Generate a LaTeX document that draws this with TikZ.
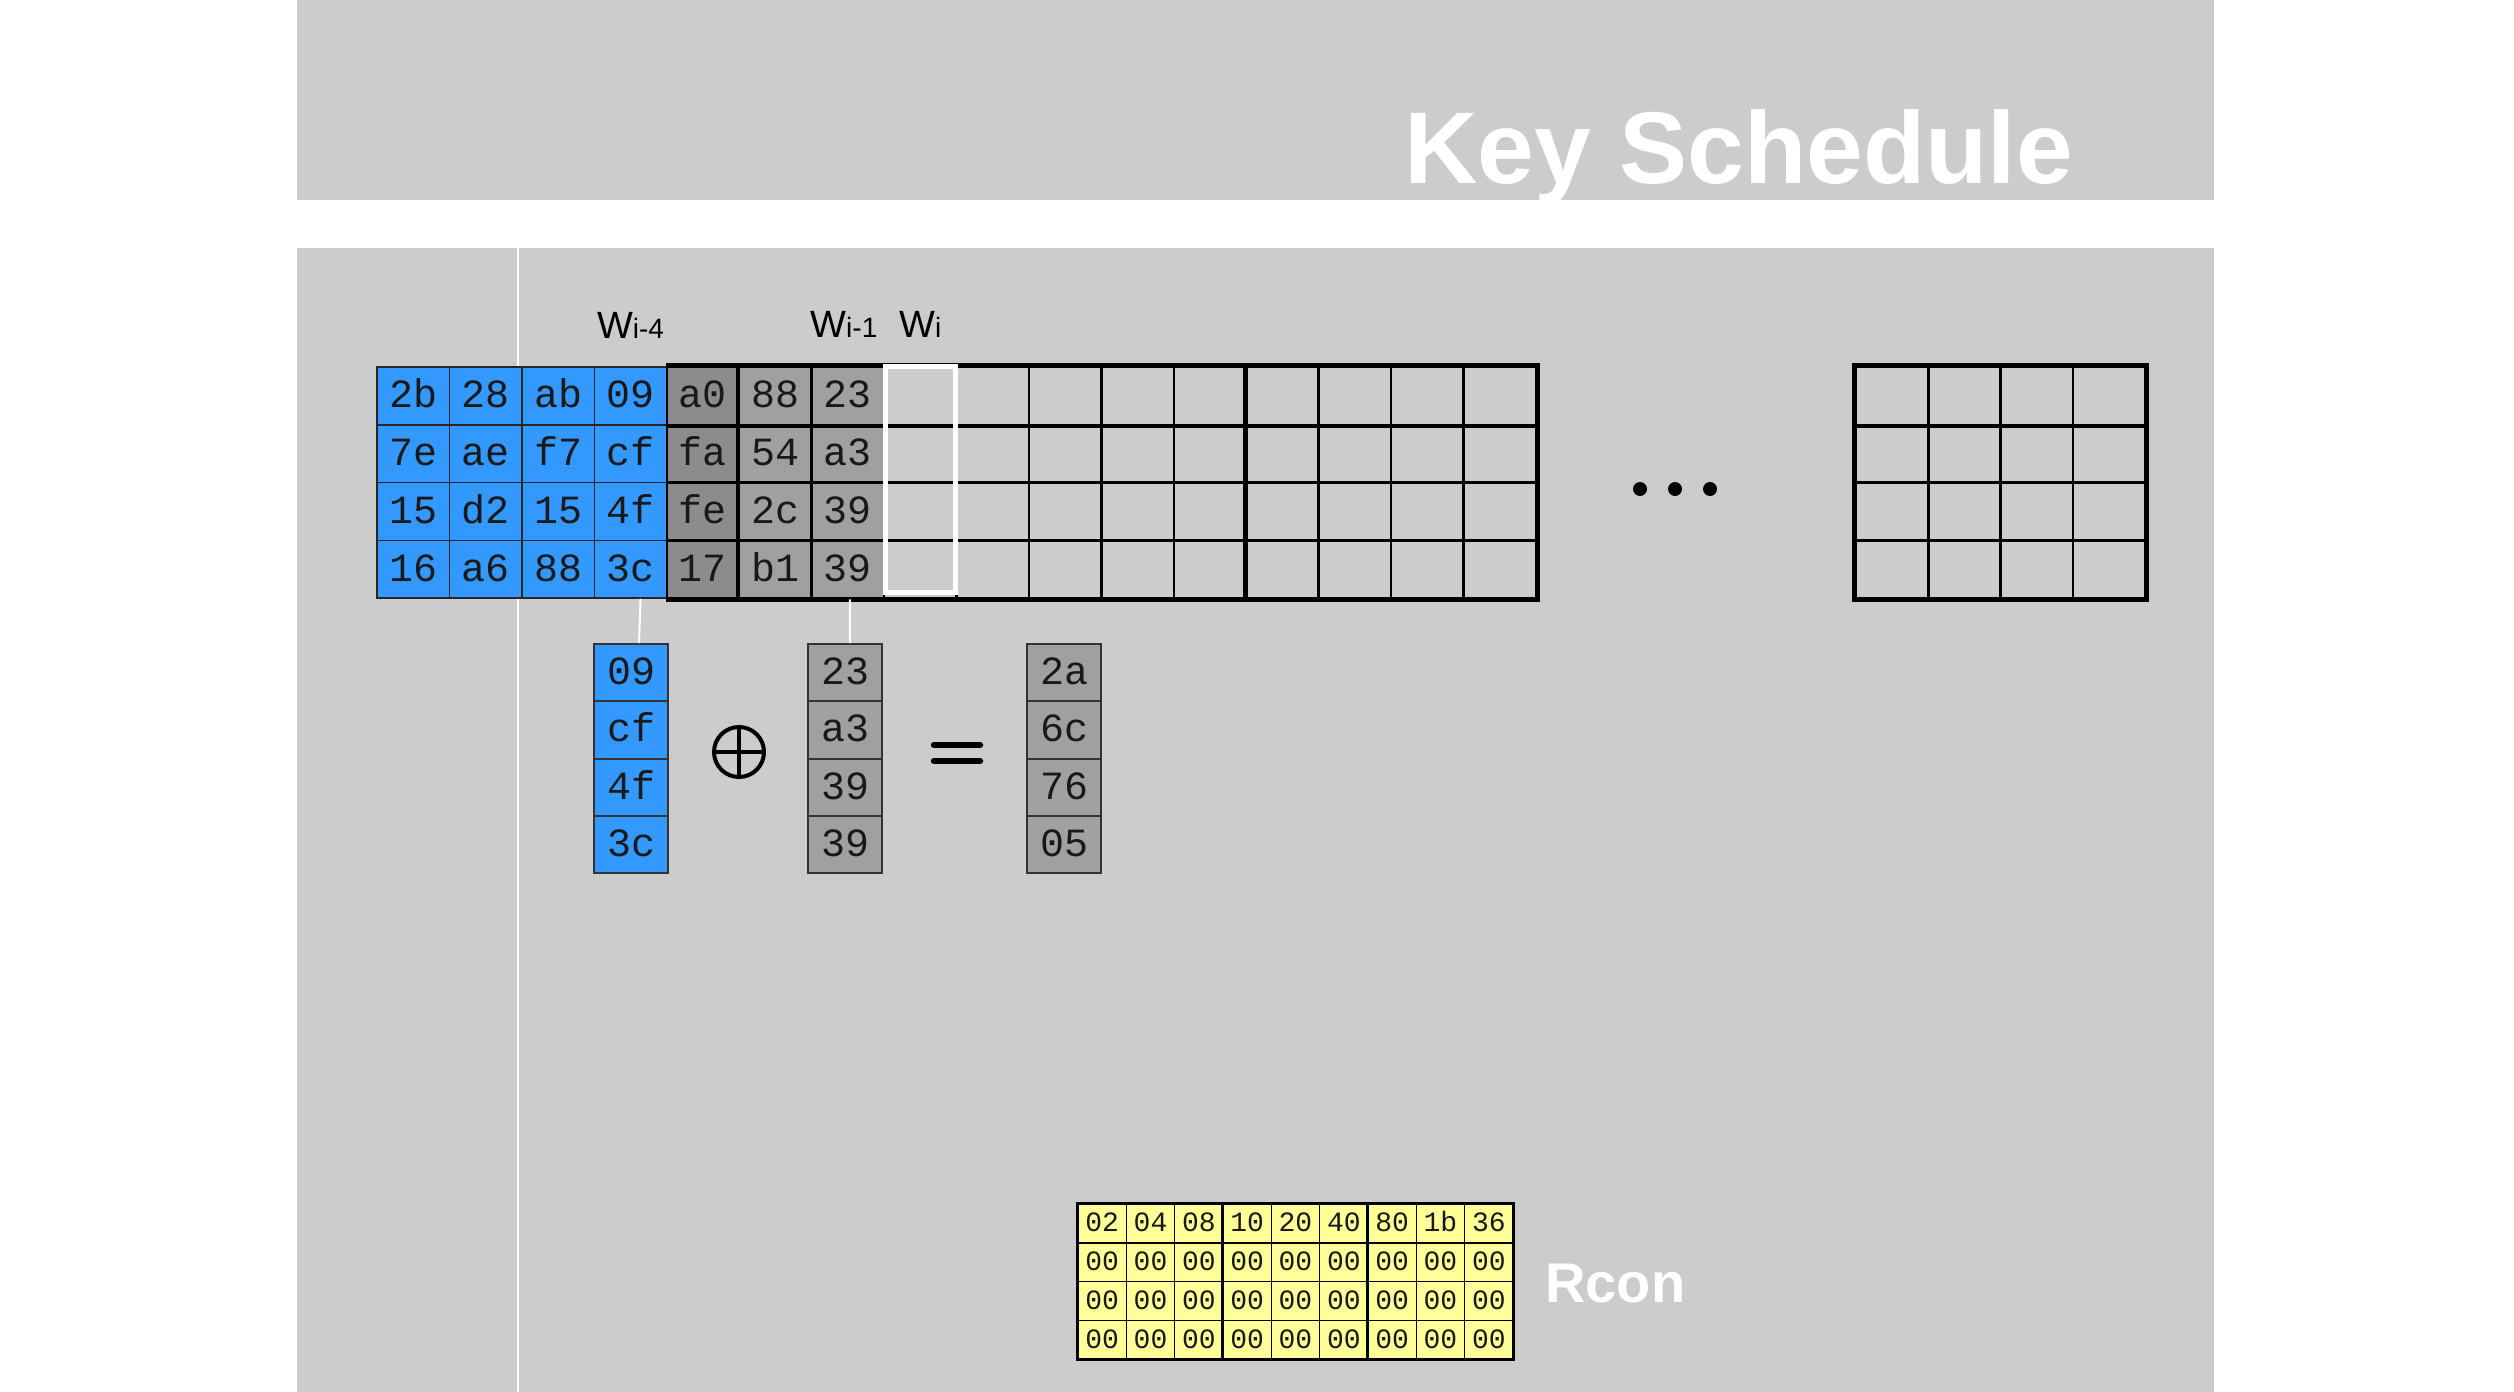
\documentclass[tikz,border=0pt]{standalone}
\usepackage{fontspec}
\setmainfont{Liberation Sans}
\newfontfamily\monof{Liberation Mono}
\definecolor{slide}{RGB}{204,204,204}
\definecolor{kblue}{RGB}{51,153,255}
\definecolor{kgray}{RGB}{160,160,160}
\definecolor{kdark}{RGB}{140,140,140}
\definecolor{kyel}{RGB}{255,255,153}
\begin{document}
\begin{tikzpicture}[x=1pt,y=-1pt,
  cellbase/.style={rectangle, inner sep=0pt, text height=24pt, text depth=0pt,
    font={\monof\fontsize{40}{40}\selectfont}, text=black!90,
    minimum width=72.44pt, minimum height=57.75pt},
  bluecell/.style={cellbase, fill=kblue, draw=black!85, line width=1.5pt},
  darkcell/.style={cellbase, fill=kdark, draw=black, line width=2.5pt},
  graycell/.style={cellbase, fill=kgray, draw=black, line width=2.5pt},
  emptycell/.style={cellbase, draw=black, line width=2.5pt},
  emptycellb/.style={cellbase, draw=black, line width=2.5pt, minimum width=72.3pt},
  smallbase/.style={rectangle, inner sep=0pt, text height=24pt, text depth=0pt,
    font={\monof\fontsize{40}{40}\selectfont}, text=black!90,
    minimum width=74pt, minimum height=57.3pt, draw=black!80, line width=1.8pt},
  sblue/.style={smallbase, fill=kblue},
  sgray/.style={smallbase, fill=kgray},
  ycell/.style={rectangle, inner sep=0pt, text height=17pt, text depth=0pt,
    font={\monof\fontsize{28}{28}\selectfont}, text=black!90,
    minimum width=48.33pt, minimum height=38.75pt, fill=kyel, draw=black, line width=1.5pt},
  wlabel/.style={anchor=base, inner sep=0pt, font={\fontsize{38}{38}\selectfont}, text=black},
  thick line/.style={line width=5pt, draw=black},
  link/.style={draw=white, line width=2pt}
]
\useasboundingbox (0,0) rectangle (2514,1392);
\fill[white] (0,0) rectangle (2514,1392);
\fill[slide] (297,0) rectangle (2214,200);
\fill[slide] (297,248) rectangle (2214,1392);
\draw[white, line width=1.8pt] (518,248) -- (518,1392);

% title
\node[anchor=base west, inner sep=0pt, text=white,
  font={\bfseries\fontsize{102}{102}\selectfont}] (title) at (1404,183) {Key Schedule};

% main key grid
\foreach \c/\va/\vb/\vc/\vd in {0/2b/7e/15/16, 1/28/ae/d2/a6, 2/ab/f7/15/88, 3/09/cf/4f/3c}{
  \node[bluecell] (k-0-\c) at ({377+72.44*(\c+0.5)},395.875) {\va};
  \node[bluecell] (k-1-\c) at ({377+72.44*(\c+0.5)},453.625) {\vb};
  \node[bluecell] (k-2-\c) at ({377+72.44*(\c+0.5)},511.375) {\vc};
  \node[bluecell] (k-3-\c) at ({377+72.44*(\c+0.5)},569.125) {\vd};
}
\foreach \c/\va/\vb/\vc/\vd in {4/a0/fa/fe/17}{
  \node[darkcell] (k-0-\c) at ({377+72.44*(\c+0.5)},395.875) {\va};
  \node[darkcell] (k-1-\c) at ({377+72.44*(\c+0.5)},453.625) {\vb};
  \node[darkcell] (k-2-\c) at ({377+72.44*(\c+0.5)},511.375) {\vc};
  \node[darkcell] (k-3-\c) at ({377+72.44*(\c+0.5)},569.125) {\vd};
}
\foreach \c/\va/\vb/\vc/\vd in {5/88/54/2c/b1, 6/23/a3/39/39}{
  \node[graycell] (k-0-\c) at ({377+72.44*(\c+0.5)},395.875) {\va};
  \node[graycell] (k-1-\c) at ({377+72.44*(\c+0.5)},453.625) {\vb};
  \node[graycell] (k-2-\c) at ({377+72.44*(\c+0.5)},511.375) {\vc};
  \node[graycell] (k-3-\c) at ({377+72.44*(\c+0.5)},569.125) {\vd};
}
\foreach \c in {7,...,15}{
  \foreach \r in {0,...,3}{
    \node[emptycell] (k-\r-\c) at ({377+72.44*(\c+0.5)},{367+57.75*(\r+0.5)}) {};
  }
}
\draw[thick line] (k-0-4.north west) -- (k-0-15.north east) -- (k-3-15.south east) -- (k-3-4.south west);
\draw[line width=4.5pt] (k-0-5.north west) -- (k-3-5.south west);
\draw[line width=4.5pt] (k-0-12.north west) -- (k-3-12.south west);
\draw[line width=3.5pt] (k-0-4.south west) -- (k-0-15.south east);
\draw[white, line width=5pt] ([xshift=2.5pt,yshift=-0.5pt]k-0-7.north west) rectangle ([xshift=-2pt,yshift=6.5pt]k-3-7.south east);

% column labels
\node[wlabel] (l4) at ([yshift=28pt]k-0-3.north) {W{\fontsize{28}{28}\selectfont i-4}};
\node[wlabel] (l1) at ([xshift=-4pt,yshift=28pt]k-0-6.north) {W{\fontsize{28}{28}\selectfont i-1}};
\node[wlabel] (l0) at ([yshift=28pt]k-0-7.north) {W{\fontsize{28}{28}\selectfont i}};

% second grid
\foreach \c in {0,...,3}{
  \foreach \r in {0,...,3}{
    \node[emptycellb] (e-\r-\c) at ({1856+72.3*(\c+0.5)},{367+57.75*(\r+0.5)}) {};
  }
}
\draw[thick line] (e-0-0.north west) rectangle (e-3-3.south east);
\draw[line width=3.5pt] (e-0-0.south west) -- (e-0-3.south east);

% dots
\fill (1640,489) circle (7pt) (1675,489) circle (7pt) (1710,489) circle (7pt);

% small columns
\foreach \r/\va/\vb/\vc in {0/09/23/2a, 1/cf/a3/6c, 2/4f/39/76, 3/3c/39/05}{
  \node[sblue] (a-\r) at (631,{644+57.3*(\r+0.5)}) {\va};
  \node[sgray] (b-\r) at (845,{644+57.3*(\r+0.5)}) {\vb};
  \node[sgray] (c-\r) at (1064,{644+57.3*(\r+0.5)}) {\vc};
}
\draw[link] ([xshift=10pt]k-3-3.south) -- ([xshift=8pt]a-0.north);
\draw[link] ([xshift=2pt]k-3-6.south) -- ([xshift=5pt]b-0.north);

% xor and equals
\node[circle, draw=black, line width=4pt, minimum size=50pt, inner sep=0pt] (xor) at (739,752) {};
\draw[line width=4pt] (xor.north) -- (xor.south) (xor.west) -- (xor.east);
\coordinate (eq) at (957,753);
\draw[line width=6.5pt, line cap=round] ([xshift=-23pt,yshift=8pt]eq) -- ([xshift=23pt,yshift=8pt]eq)
  ([xshift=-23pt,yshift=-8pt]eq) -- ([xshift=23pt,yshift=-8pt]eq);

% Rcon
\foreach \c/\v in {0/02,1/04,2/08,3/10,4/20,5/40,6/80,7/1b,8/36}{
  \node[ycell] (y-0-\c) at ({1078+48.33*(\c+0.5)},{1204+38.75*0.5}) {\v};
  \foreach \r in {1,2,3}{
    \node[ycell] (y-\r-\c) at ({1078+48.33*(\c+0.5)},{1204+38.75*(\r+0.5)}) {00};
  }
}
\draw[line width=3pt] (y-0-0.north west) rectangle (y-3-8.south east);
\draw[line width=3pt] (y-0-3.north west) -- (y-3-3.south west);
\draw[line width=3pt] (y-0-6.north west) -- (y-3-6.south west);
\node[anchor=base west, inner sep=0pt, text=white,
  font={\bfseries\fontsize{56}{56}\selectfont}] (rcon) at (1545,1302) {Rcon};
\end{tikzpicture}
\end{document}
